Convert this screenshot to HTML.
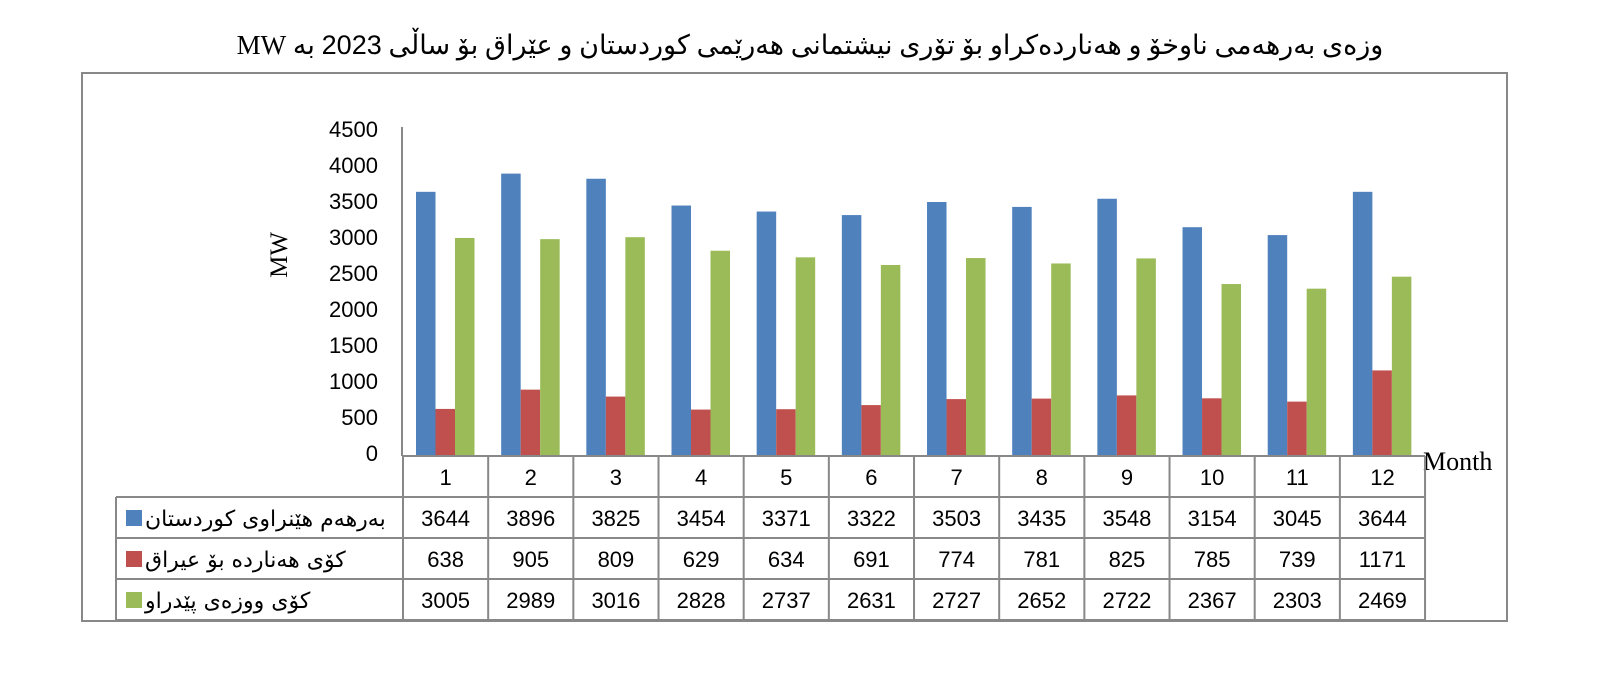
<!DOCTYPE html>
<html><head><meta charset="utf-8"><style>
body{margin:0;background:#fff;}
</style></head><body>
<svg width="1600" height="672" xmlns="http://www.w3.org/2000/svg" style="font-family:'Liberation Sans','DejaVu Sans',sans-serif">
<text x="810" y="54" text-anchor="middle" font-size="27" direction="rtl" style="font-family:'Liberation Serif','DejaVu Sans',serif">وزەی بەرهەمی ناوخۆ و هەناردەکراو بۆ تۆری نیشتمانی هەرێمی کوردستان و عێراق بۆ ساڵی <tspan style="font-family:'Liberation Sans',sans-serif">2023</tspan> بە MW</text>
<rect x="82" y="73" width="1425" height="548" fill="none" stroke="#888" stroke-width="2"/>
<g font-size="22" text-anchor="end" fill="#000">
<text x="378" y="137">4500</text><text x="378" y="173">4000</text><text x="378" y="209">3500</text><text x="378" y="245">3000</text><text x="378" y="281">2500</text><text x="378" y="317">2000</text><text x="378" y="353">1500</text><text x="378" y="389">1000</text><text x="378" y="425">500</text><text x="378" y="461">0</text>
</g>
<text transform="translate(287,255) rotate(-90)" text-anchor="middle" font-size="25" style="font-family:'Liberation Serif',serif">MW</text>
<text x="1423" y="470" font-size="26" style="font-family:'Liberation Serif',serif">Month</text>
<g id="bars"></g>
<line x1="402" y1="127" x2="402" y2="456" stroke="#888" stroke-width="2"/>
<g id="tbl" stroke="#888" stroke-width="2" fill="none"></g>
<g id="txt" font-size="22" text-anchor="middle"></g>
<g font-size="22" direction="rtl" style="font-family:'DejaVu Sans',sans-serif">
<rect x="126" y="510" width="16" height="16" fill="#4F81BD"/>
<rect x="126" y="551" width="16" height="16" fill="#C0504D"/>
<rect x="126" y="592" width="16" height="16" fill="#9BBB59"/>
<text x="145" y="526" text-anchor="end">بەرهەم هێنراوی کوردستان</text>
<text x="145" y="567" text-anchor="end">کۆی هەناردە بۆ عیراق</text>
<text x="145" y="608" text-anchor="end">کۆی ووزەی پێدراو</text>
</g>
</svg>
<script>
const A=[3644,3896,3825,3454,3371,3322,3503,3435,3548,3154,3045,3644],
B=[638,905,809,629,634,691,774,781,825,785,739,1171],
C=[3005,2989,3016,2828,2737,2631,2727,2652,2722,2367,2303,2469];
const ns="http://www.w3.org/2000/svg",x0=403,cw=85.17,y0=455,k=325/4500;
const bars=document.getElementById('bars'),tbl=document.getElementById('tbl'),txt=document.getElementById('txt');
function el(p,t,a,s){const e=document.createElementNS(ns,t);for(const q in a)e.setAttribute(q,a[q]);if(s!==undefined)e.textContent=s;p.appendChild(e);}
[[A,'#4F81BD'],[B,'#C0504D'],[C,'#9BBB59']].forEach(([d,c],j)=>d.forEach((v,i)=>{const h=v*k;el(bars,'rect',{x:x0+i*cw+13+j*19.5,y:y0-h,width:19.5,height:h,fill:c});}));
const xr=x0+12*cw;
[456,497,538,579,620].forEach((y,i)=>el(tbl,'line',{x1:i==0?402:116,y1:y,x2:xr,y2:y}));
el(tbl,'line',{x1:116,y1:497,x2:116,y2:620});
for(let i=0;i<=12;i++)el(tbl,'line',{x1:x0+i*cw,y1:456,x2:x0+i*cw,y2:620});
for(let i=0;i<12;i++){const cx=x0+i*cw+cw/2;el(txt,'text',{x:cx,y:485},i+1);
[A,B,C].forEach((d,j)=>el(txt,'text',{x:cx,y:526+41*j},d[i]));}
</script>
</body></html>
